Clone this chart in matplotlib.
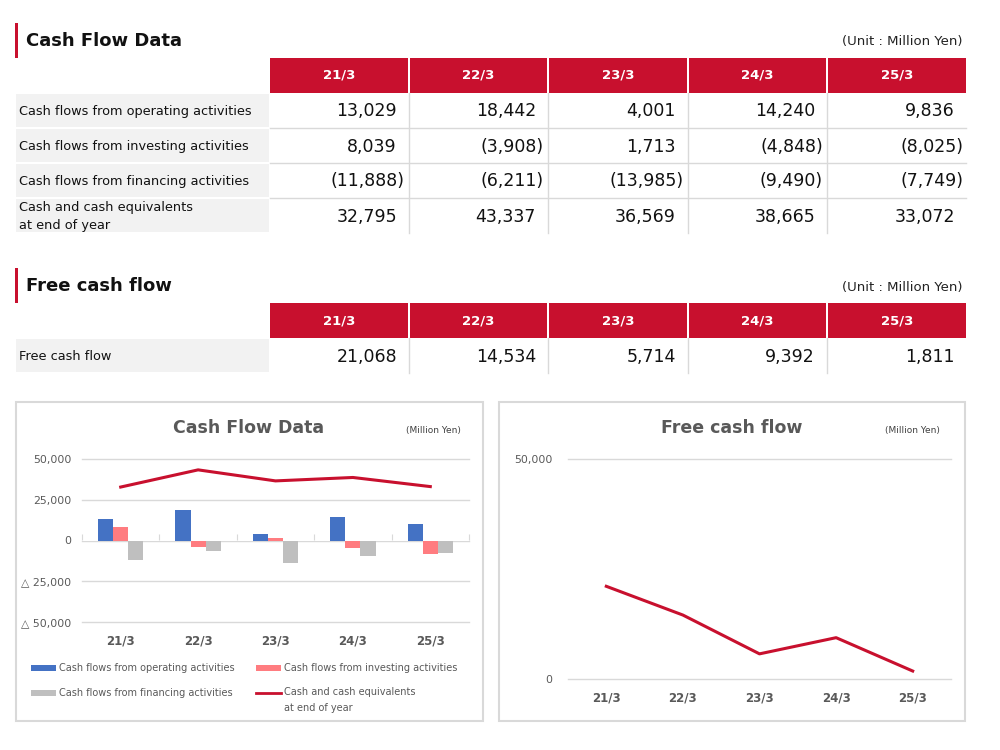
import matplotlib
matplotlib.use("Agg")
from matplotlib import pyplot as plt
from matplotlib.patches import Rectangle
from matplotlib.lines import Line2D
import numpy as np

# data
years = ["21/3", "22/3", "23/3", "24/3", "25/3"]
row_labels = ["Cash flows from operating activities",
              "Cash flows from investing activities",
              "Cash flows from financing activities",
              "Cash and cash equivalents\nat end of year"]
operating = [13029, 18442, 4001, 14240, 9836]
investing = [8039, -3908, 1713, -4848, -8025]
financing = [-11888, -6211, -13985, -9490, -7749]
cash_end = [32795, 43337, 36569, 38665, 33072]
free_cf = [21068, 14534, 5714, 9392, 1811]

RED = "#C8102E"
BLUE = "#4472C4"
PINK = "#FF7C80"
GREY = "#BFBFBF"
TXT = "#595959"
LINEGREY = "#D9D9D9"

W, H = 1000, 750
fig = plt.figure(figsize=(10, 7.5), dpi=100)


def fx(x):
    return x / W


def fy(y):
    return 1 - y / H


def rect(x0, y0, x1, y1, **kw):
    fig.patches.append(Rectangle((fx(x0), fy(y1)), fx(x1) - fx(x0), fy(y0) - fy(y1),
                                 transform=fig.transFigure, **kw))


def hline(x0, x1, y, color=LINEGREY, lw=1):
    fig.lines.append(Line2D([fx(x0), fx(x1)], [fy(y), fy(y)], transform=fig.transFigure,
                            color=color, lw=lw))


def vline(x, y0, y1, color=LINEGREY, lw=1):
    fig.lines.append(Line2D([fx(x), fx(x)], [fy(y0), fy(y1)], transform=fig.transFigure,
                            color=color, lw=lw))


def fmt(v):
    return "{:,}".format(v) if v >= 0 else "({:,})".format(-v)


col_edges = [(270, 408), (410, 547), (549, 687), (689, 826), (828, 966)]


def section(title, y_title, y_head, rows, labels):
    rect(15, y_title - 18, 18, y_title + 17, color=RED, lw=0)
    fig.text(fx(26), fy(y_title), title, fontsize=13, fontweight="bold", va="center", color="#111111")
    fig.text(fx(963), fy(y_title + 1), "(Unit : Million Yen)", fontsize=9.5, ha="right", va="center",
             color="#222222")
    for (x0, x1), yr in zip(col_edges, years):
        rect(x0, y_head, x1, y_head + 35, color=RED, lw=0)
        fig.text(fx((x0 + x1) / 2), fy(y_head + 17.5), yr, fontsize=9.5, fontweight="bold",
                 color="white", ha="center", va="center")
    y = y_head + 35
    n = len(rows)
    for i, (lab, vals) in enumerate(zip(labels, rows)):
        y0, y1 = y + i * 35, y + (i + 1) * 35
        rect(16, y0 + 1, 269, y1 - 1, color="#F2F2F2", lw=0)
        fig.text(fx(19), fy((y0 + y1) / 2 + 1), lab, fontsize=9.3, va="center", color="#111111",
                 linespacing=1.4)
        for (x0, x1), v in zip(col_edges, vals):
            xr = x1 - 3 if v < 0 else x1 - 11
            fig.text(fx(xr), fy((y0 + y1) / 2 + 1), fmt(v), fontsize=12.5, ha="right", va="center",
                     color="#111111")
        if i < n - 1:
            hline(270, 966, y1)
    for (x0, x1) in col_edges[1:]:
        vline(x0 - 1, y, y + n * 35)


section("Cash Flow Data", 41, 58, [operating, investing, financing, cash_end], row_labels)
section("Free cash flow", 286, 303, [free_cf], ["Free cash flow"])

# chart frames
rect(16, 402, 483, 721, fill=False, edgecolor=LINEGREY, lw=1.5)
rect(499, 402, 965, 721, fill=False, edgecolor=LINEGREY, lw=1.5)

x = np.arange(len(years))


def style_axes(ax):
    for s in ax.spines.values():
        s.set_visible(False)
    ax.set_axisbelow(True)
    ax.tick_params(axis="both", length=0, colors=TXT)
    ax.set_xticks(x)
    ax.set_xticklabels(years, fontsize=8.5, fontweight="bold", color=TXT)
    ax.set_xlim(-0.5, len(years) - 0.5)
    for v in ax.get_yticks():
        ax.axhline(v, color=LINEGREY, lw=1, zorder=0, clip_on=False)


# left chart
ax1 = fig.add_axes([fx(82), fy(622), (469 - 82) / W, (622 - 459) / H])
bw = 0.195
ax1.bar(x - bw, operating, bw, color=BLUE, zorder=2)
ax1.bar(x, investing, bw, color=PINK, zorder=2)
ax1.bar(x + bw, financing, bw, color=GREY, zorder=2)
ax1.plot(x, cash_end, color=RED, lw=2.2, zorder=3)
ax1.set_ylim(-50000, 50000)
yt = [-50000, -25000, 0, 25000, 50000]
ax1.set_yticks(yt)
ax1.set_yticklabels(["\u25b3 " + "{:,}".format(-v) if v < 0 else "{:,}".format(v) for v in yt],
                    fontsize=7.8, color=TXT)
style_axes(ax1)
ax1.tick_params(axis="y", pad=7.5)
ax1.tick_params(axis="x", pad=9)
sec = ax1.secondary_xaxis(0.5)
sec.set_xticks(np.arange(-0.5, len(years), 1))
sec.set_xticklabels([])
sec.tick_params(length=4, color=LINEGREY, direction="out")
sec.spines["bottom"].set_color(LINEGREY)
for s in ["top", "left", "right"]:
    sec.spines[s].set_visible(False)

fig.text(fx(249), fy(428), "Cash Flow Data", fontsize=12.5, fontweight="bold", color=TXT,
         ha="center", va="center")
fig.text(fx(433), fy(431), "(Million Yen)", fontsize=6.5, color="#404040", ha="center", va="center")

# legend (manual)
leg = [(31, 668, "bar", BLUE, "Cash flows from operating activities"),
       (256, 668, "bar", PINK, "Cash flows from investing activities"),
       (31, 693, "bar", GREY, "Cash flows from financing activities"),
       (256, 693, "line", RED, "Cash and cash equivalents\nat end of year")]
for lx, ly, kind, c, lab in leg:
    if kind == "bar":
        rect(lx, ly - 3, lx + 25, ly + 3, color=c, lw=0)
    else:
        hline(lx, lx + 25, ly, color=c, lw=2)
    if "\n" in lab:
        fig.text(fx(lx + 28), fy(ly - 6), lab, fontsize=7, color=TXT, va="top", linespacing=1.7)
    else:
        fig.text(fx(lx + 28), fy(ly), lab, fontsize=7, color=TXT, va="center")

# right chart
ax2 = fig.add_axes([fx(568), fy(679), (951 - 568) / W, (679 - 459) / H])
ax2.plot(x, free_cf, color=RED, lw=2.2, zorder=3)
ax2.set_ylim(0, 50000)
ax2.set_yticks([0, 50000])
ax2.set_yticklabels(["0", "50,000"], fontsize=7.8, color=TXT)
style_axes(ax2)
ax2.tick_params(axis="y", pad=11)
ax2.tick_params(axis="x", pad=9)

fig.text(fx(732), fy(428), "Free cash flow", fontsize=12.5, fontweight="bold", color=TXT,
         ha="center", va="center")
fig.text(fx(912), fy(431), "(Million Yen)", fontsize=6.5, color="#404040", ha="center", va="center")

fig.savefig("out.png", dpi=100, facecolor="white")
